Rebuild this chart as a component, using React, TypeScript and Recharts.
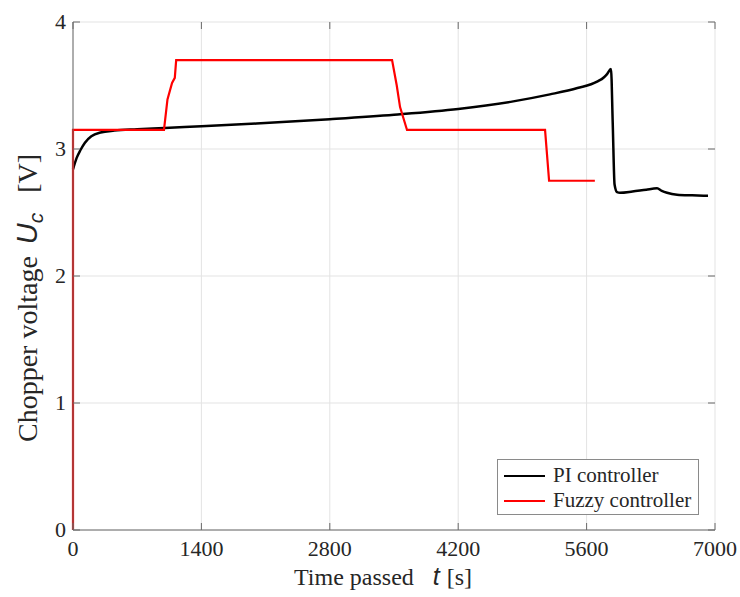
import { LineChart, Line, XAxis, YAxis, CartesianGrid, Label } from 'recharts'

// PI controller trace
const piTime = [0, 40, 80, 130, 200, 300, 450, 700, 1000, 1400, 2000, 2800, 3500, 4200, 4800, 5200, 5500, 5714, 5790, 5823, 5866, 5885, 5905, 5932, 5964, 6100, 6250, 6368, 6420, 6477, 6586, 6750, 6924]
const piVolt = [2.84, 2.93, 2.99, 3.05, 3.1, 3.13, 3.145, 3.155, 3.165, 3.18, 3.2, 3.235, 3.27, 3.315, 3.375, 3.43, 3.48, 3.53, 3.565, 3.59, 3.63, 3.2, 2.72, 2.66, 2.655, 2.665, 2.68, 2.69, 2.67, 2.655, 2.64, 2.635, 2.632]

// Fuzzy controller trace
const fuzzyTime = [0, 0, 992, 1030, 1080, 1110, 1125, 3479, 3530, 3566, 3642, 5147, 5191, 5690]
const fuzzyVolt = [0, 3.15, 3.15, 3.39, 3.52, 3.56, 3.7, 3.7, 3.5, 3.33, 3.15, 3.15, 2.75, 2.75]

const xTicks = [0, 1400, 2800, 4200, 5600, 7000]
const yTicks = [0, 1, 2, 3, 4]

const piData = piTime.map((t, i) => ({ t, v: piVolt[i] }))
const fuzzyData = fuzzyTime.map((t, i) => ({ t, v: fuzzyVolt[i] }))

const LEFT = 73
const TOP = 22
const RIGHT = 715
const BOTTOM = 530
const TICK = 7
const SERIF = '"Liberation Serif", "Times New Roman", serif'
const SANS = '"Liberation Sans", Arial, sans-serif'
const AXIS = '#6a6a6a'
const TEXT = '#262626'

const XTick = (props: any) => {
  const { x, payload } = props
  return (
    <g>
      <line x1={x} y1={BOTTOM} x2={x} y2={BOTTOM - TICK} stroke={AXIS} />
      <line x1={x} y1={TOP} x2={x} y2={TOP + TICK} stroke={AXIS} />
      <text x={x} y={BOTTOM + 26} textAnchor="middle" fontFamily={SERIF} fontSize={22} fill={TEXT}>
        {payload.value}
      </text>
    </g>
  )
}

const YTick = (props: any) => {
  const { y, payload } = props
  return (
    <g>
      <line x1={LEFT} y1={y} x2={LEFT + TICK} y2={y} stroke={AXIS} />
      <line x1={RIGHT} y1={y} x2={RIGHT - TICK} y2={y} stroke={AXIS} />
      <text x={LEFT - 7} y={y + 7} textAnchor="end" fontFamily={SERIF} fontSize={22} fill={TEXT}>
        {payload.value}
      </text>
    </g>
  )
}

const legendItems = [
  { name: 'PI controller', color: '#000000' },
  { name: 'Fuzzy controller', color: '#ff0000' },
]

const LegendBox = () => (
  <div style={{ position: 'absolute', left: 497, top: 459, width: 200, height: 54, border: '1px solid #8a8a8a', background: '#fff', fontFamily: SERIF, fontSize: 21, color: TEXT }}>
    {legendItems.map((it, i) => (
      <div key={it.name} style={{ display: 'flex', alignItems: 'center', height: 25, marginTop: i === 0 ? 3 : 0 }}>
        <div style={{ width: 41, height: 2, background: it.color, marginLeft: 6, marginRight: 8 }} />
        <span style={{ lineHeight: '25px' }}>{it.name}</span>
      </div>
    ))}
  </div>
)

export default function App() {
  return (
    <div style={{ position: 'absolute', left: 0, top: 0, width: 740, height: 597, background: '#fff' }}>
      <LineChart width={740} height={597} margin={{ top: TOP, right: 740 - RIGHT, left: 0, bottom: 0 }}>
        <CartesianGrid stroke="#e3e3e3" horizontalValues={yTicks} verticalValues={xTicks} />
        <XAxis
          dataKey="t"
          type="number"
          domain={[0, 7000]}
          ticks={xTicks}
          height={597 - BOTTOM}
          tickLine={false}
          tickSize={0}
          tickMargin={0}
          tick={<XTick />}
          stroke={AXIS}
        >
          <Label
            content={() => (
              <text x={294} y={585} textAnchor="start" fontFamily={SERIF} fontSize={24} fill={TEXT}>
                <tspan>Time passed</tspan>
                <tspan fontFamily={SANS} fontStyle="italic" fontSize={25} dx={19}>t</tspan>
                <tspan dx={7}>[s]</tspan>
              </text>
            )}
          />
        </XAxis>
        <XAxis xAxisId="top" orientation="top" type="number" domain={[0, 7000]} ticks={xTicks} height={0} tick={false} tickLine={false} stroke={AXIS} />
        <YAxis
          type="number"
          domain={[0, 4]}
          ticks={yTicks}
          width={LEFT}
          tickLine={false}
          tickSize={0}
          tickMargin={0}
          tick={<YTick />}
          stroke={AXIS}
        >
          <Label
            content={() => (
              <text transform="translate(37, 442) rotate(-90)" textAnchor="start" fontFamily={SERIF} fontSize={28} fill={TEXT}>
                <tspan>Chopper voltage</tspan>
                <tspan fontFamily={SANS} fontStyle="italic" fontSize={29} dx={12}>U</tspan>
                <tspan fontFamily={SANS} fontStyle="italic" fontSize={21} dy={6}>c</tspan>
                <tspan dy={-6} dx={20}>[V]</tspan>
              </text>
            )}
          />
        </YAxis>
        <YAxis yAxisId="right" orientation="right" type="number" domain={[0, 4]} ticks={yTicks} width={0} tick={false} tickLine={false} stroke={AXIS} />
        <Line data={piData} dataKey="v" name="PI controller" type="monotone" stroke="#000000" strokeWidth={2.5} dot={false} isAnimationActive={false} />
        <Line data={fuzzyData} dataKey="v" name="Fuzzy controller" type="linear" stroke="#ff0000" strokeWidth={2.2} dot={false} isAnimationActive={false} />
      </LineChart>
      <LegendBox />
    </div>
  )
}
